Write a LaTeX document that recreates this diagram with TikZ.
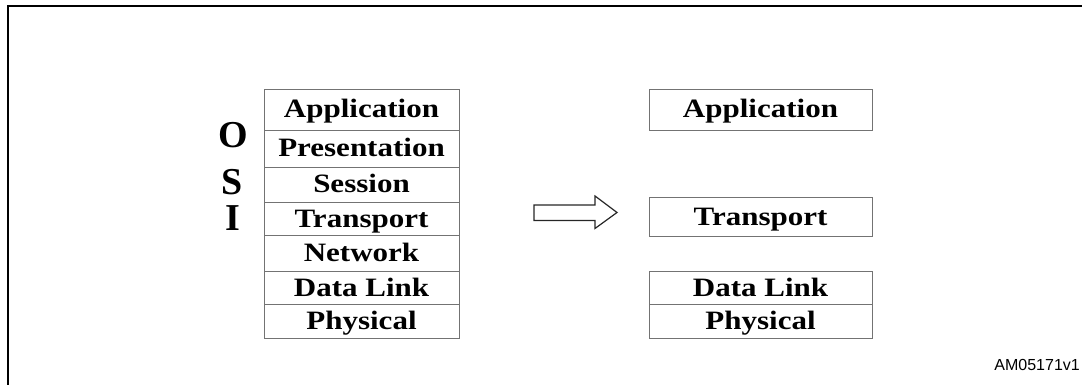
\documentclass[tikz,border=0pt]{standalone}
\usepackage{fontspec}
\setmainfont{Liberation Serif}
\newfontfamily\layerfont[FakeStretch=1.17]{Liberation Serif Bold}
\newfontfamily\osifont{Liberation Serif Bold}
\newfontfamily\tagfont{Liberation Sans}
\begin{document}
\begin{tikzpicture}[x=1pt,y=-1pt,
  layer/.style={draw=black!55, line width=0.9pt, inner sep=0pt,
    text height=17pt, text depth=0pt,
    font=\layerfont\fontsize{26.5}{30}\selectfont},
  leftlayer/.style={layer, minimum width=195pt},
  rightlayer/.style={layer, minimum width=223pt},
  osi/.style={inner sep=0pt, text height=26pt, text depth=0pt,
    font=\osifont\fontsize{38}{42}\selectfont},
  frame/.style={line width=2pt, line cap=rect},
  bigarrow/.style={draw=black!85, line width=1.2pt, line join=miter, fill=white}]
\useasboundingbox (0,0) rectangle (1082,385);

% outer frame (open towards right and bottom)
\draw[frame] (7.5,385) -- (7.5,6.5) -- (1082,6.5);

% full OSI stack
\node[leftlayer, minimum height=41pt] (lapp)  at (361.5,109.5) {Application};
\node[leftlayer, minimum height=37pt] (lpres) at (361.5,148.5) {Presentation};
\node[leftlayer, minimum height=35pt] (lses)  at (361.5,184.5) {Session};
\node[leftlayer, minimum height=33pt] (ltra)  at (361.5,218.5) {Transport};
\node[leftlayer, minimum height=36pt] (lnet)  at (361.5,253)   {Network};
\node[leftlayer, minimum height=33pt] (ldl)   at (361.5,287.5) {Data Link};
\node[leftlayer, minimum height=34pt] (lphy)  at (361.5,321)   {Physical};

% OSI letters
\node[osi] (o) at (233,135)   {O};
\node[osi] (s) at (232,181)   {S};
\node[osi] (i) at (233,217)   {I};

% reduced stack
\node[rightlayer, minimum height=41pt] (rapp) at (760.5,109.5) {Application};
\node[rightlayer, minimum height=39pt] (rtra) at (760.5,216.5) {Transport};
\node[rightlayer, minimum height=33pt] (rdl)  at (760.5,287.5) {Data Link};
\node[rightlayer, minimum height=34pt] (rphy) at (760.5,321)   {Physical};

% outline block arrow
\coordinate (arr) at (534,212.5);
\draw[bigarrow] (arr) ++(0,-7.5) -- ++(61,0) -- ++(0,-9) -- ++(22,16.5)
  -- ++(-22,16) -- ++(0,-8) -- ++(-61,0) -- cycle;

% figure tag
\node[anchor=base east, inner sep=0pt, font=\tagfont\fontsize{16}{18}\selectfont]
  (tag) at (1080,370) {AM05171v1};
\end{tikzpicture}
\end{document}
